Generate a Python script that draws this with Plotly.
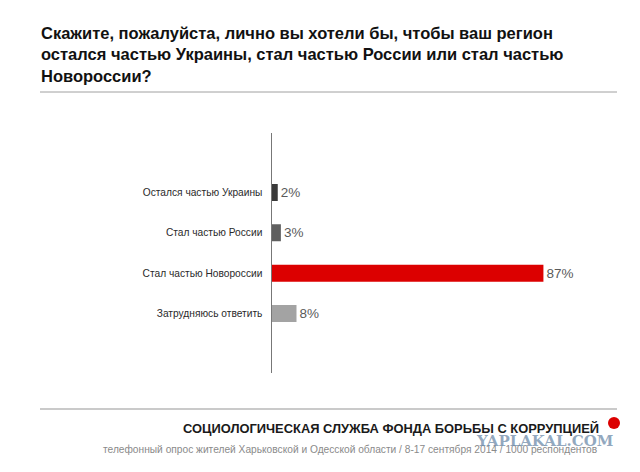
import plotly.graph_objects as go

categories = ["Остался частью Украины", "Стал частью России", "Стал частью Новороссии", "Затрудняюсь ответить"]
values = [2, 3, 87, 8]
labels = ["2%", "3%", "87%", "8%"]
colors = ["#3a3a3a", "#5f5f5f", "#dc0000", "#a3a3a3"]
title_text = ("Скажите, пожалуйста, лично вы хотели бы, чтобы ваш регион<br>"
              "остался частью Украины, стал частью России или стал частью<br>"
              "Новороссии?")
org_text = "СОЦИОЛОГИЧЕСКАЯ СЛУЖБА ФОНДА БОРЬБЫ С КОРРУПЦИЕЙ"
note_text = "телефонный опрос жителей Харьковской и Одесской области / 8-17 сентября 2014 / 1000 респондентов"
mark_text = "YAPLAKAL.COM"

W, H = 640, 472
px = lambda v: v / W
py = lambda v: 1 - v / H

fig = go.Figure(go.Bar(
    y=categories, x=values, orientation="h", width=0.42,
    marker=dict(color=colors, line_width=0),
    text=labels, textposition="outside", cliponaxis=False,
    textfont=dict(family="Liberation Sans", size=13.5, color="#5a5a5a"),
    hoverinfo="skip",
))

fig.update_layout(
    width=W, height=H, margin=dict(l=0, r=0, t=0, b=0),
    paper_bgcolor="white", plot_bgcolor="white", showlegend=False,
    font=dict(family="Liberation Sans"),
    xaxis=dict(domain=[px(271.5), px(620)], range=[0, 111.5], visible=False, fixedrange=True),
    yaxis=dict(domain=[py(373), py(133)], autorange=False, range=[4.47, -1.47], type="category",
               showline=True, linecolor="#777777", linewidth=1.2, showgrid=False, zeroline=False,
               ticks="", ticklabelstandoff=6, tickfont=dict(size=10.2, color="#2a2a2a"), fixedrange=True),
    shapes=[
        dict(type="line", xref="paper", yref="paper", x0=px(40), x1=px(617), y0=py(92), y1=py(92),
             line=dict(color="#a0a0a0", width=1)),
        dict(type="line", xref="paper", yref="paper", x0=px(40), x1=px(617), y0=py(409), y1=py(409),
             line=dict(color="#b8b8b8", width=1.6)),
        dict(type="circle", xref="paper", yref="paper", x0=px(608), x1=px(620), y0=py(429), y1=py(417),
             fillcolor="#dc0000", line_width=0),
    ],
    annotations=[
        dict(text="<b>" + title_text + "</b>", xref="paper", yref="paper", x=px(38.5), y=py(22), xanchor="left", yanchor="top",
             align="left", showarrow=False, font=dict(size=16.5, color="#111111", family="Liberation Sans")),
        dict(text="<b>" + org_text + "</b>", xref="paper", yref="paper", x=px(601), y=py(428), xanchor="right", yanchor="middle",
             showarrow=False, font=dict(size=12.9, color="#1a1a1a", family="Liberation Sans")),
        dict(text=note_text, xref="paper", yref="paper", x=px(599), y=py(449), xanchor="right", yanchor="middle",
             showarrow=False, font=dict(size=10.2, color="#8a8a8a", family="Liberation Sans")),
        dict(text="<b>" + mark_text + "</b>", xref="paper", yref="paper", x=px(615), y=py(441), xanchor="right", yanchor="middle",
             showarrow=False, font=dict(size=15, color="rgba(110,140,170,0.75)", family="DejaVu Serif")),
    ],
)

fig.write_html("out.html", config={"displayModeBar": False},
               post_script="document.body.style.margin='0';")
